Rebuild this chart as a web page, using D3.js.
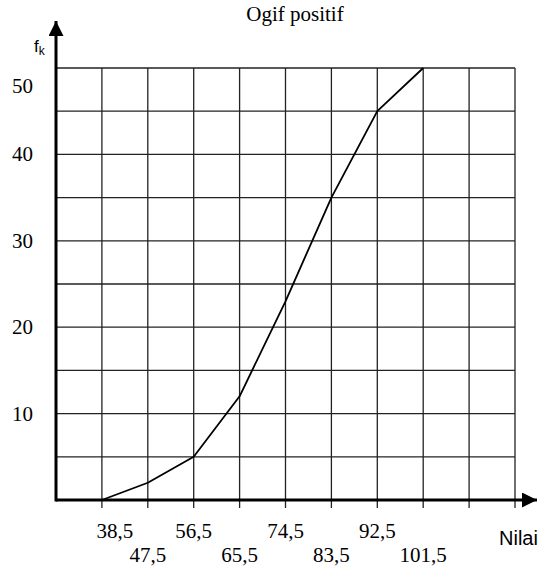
<!DOCTYPE html>
<html lang="id">
	<head>
		<meta charset="utf-8">
		<style type="text/css">
			html, body {
				margin: 0;
				padding: 0;
				background: #fff;
			}
			.serif {
				font-family: "Liberation Serif", "DejaVu Serif", serif;
			}
			.sans {
				font-family: "Liberation Sans", Arial, sans-serif;
			}
		</style>
	</head>
	<body>
		<svg width="550" height="569"></svg>
	<script src="https://d3js.org/d3.v7.min.js"></script>
	<script>
		const title = "Ogif positif"
		const classBounds = [38.5, 47.5, 56.5, 65.5, 74.5, 83.5, 92.5, 101.5]
		const cumFreq = [0, 2, 5, 12, 23, 35, 45, 50]
		const xGrid = [38.5, 47.5, 56.5, 65.5, 74.5, 83.5, 92.5, 101.5, 110.5, 119.5]
		const yGrid = [5, 10, 15, 20, 25, 30, 35, 40, 45, 50]
		const yTickLabels = [10, 20, 30, 40, 50]

		const idFormat = d3.formatLocale({ decimal: ",", thousands: ".", grouping: [3], currency: ["", ""] }).format(".1f")

		const x = d3.scaleLinear().domain([29.5, 119.5]).range([56, 515])
		const y = d3.scaleLinear().domain([0, 50]).range([500, 68])

		const svg = d3.select("svg")

		svg.append("defs").append("marker")
			.attr("id", "arrow")
			.attr("viewBox", "0 0 10 10")
			.attr("refX", 10).attr("refY", 5)
			.attr("markerWidth", 15).attr("markerHeight", 15)
			.attr("markerUnits", "userSpaceOnUse")
			.attr("orient", "auto")
		  .append("path")
			.attr("d", "M0,0 L10,5 L0,10 Z")
			.attr("fill", "#000")

		// grid
		svg.append("g").selectAll("line")
			.data(yGrid)
			.join("line")
			.attr("x1", x.range()[0]).attr("x2", x(xGrid[xGrid.length - 1]))
			.attr("y1", d => y(d)).attr("y2", d => y(d))
			.attr("stroke", "#222").attr("stroke-width", 1.3)

		svg.append("g").selectAll("line")
			.data(xGrid)
			.join("line")
			.attr("x1", d => x(d)).attr("x2", d => x(d))
			.attr("y1", y(50)).attr("y2", y(0) + 8)
			.attr("stroke", "#222").attr("stroke-width", 1.3)

		// axes
		svg.append("line")
			.attr("x1", x.range()[0]).attr("x2", 537)
			.attr("y1", y(0)).attr("y2", y(0))
			.attr("stroke", "#000").attr("stroke-width", 3)
			.attr("marker-end", "url(#arrow)")

		svg.append("line")
			.attr("x1", x.range()[0]).attr("x2", x.range()[0])
			.attr("y1", y(0) + 1.5).attr("y2", 21)
			.attr("stroke", "#000").attr("stroke-width", 3)
			.attr("marker-end", "url(#arrow)")

		// ogive
		const line = d3.line()
			.x((d, i) => x(classBounds[i]))
			.y(d => y(d))

		svg.append("path")
			.attr("d", line(cumFreq))
			.attr("fill", "none")
			.attr("stroke", "#000")
			.attr("stroke-width", 1.8)
			.attr("stroke-linejoin", "round")

		// tick labels
		svg.append("g").attr("class", "serif").selectAll("text")
			.data(yTickLabels)
			.join("text")
			.attr("x", 33)
			.attr("y", d => Math.max(y(d), y(50) + 18) + 7)
			.attr("text-anchor", "end")
			.attr("font-size", 21)
			.text(d => d)

		svg.append("g").attr("class", "serif").selectAll("text")
			.data(classBounds)
			.join("text")
			.attr("x", (d, i) => x(d) + (i === 0 ? 13 : 0))
			.attr("y", (d, i) => i % 2 === 0 ? 538 : 562)
			.attr("text-anchor", "middle")
			.attr("font-size", 21)
			.text(d => idFormat(d))

		svg.append("text")
			.attr("class", "serif")
			.attr("x", 295).attr("y", 21)
			.attr("text-anchor", "middle")
			.attr("font-size", 21)
			.text(title)

		const fk = svg.append("text")
			.attr("class", "sans")
			.attr("x", 34).attr("y", 52)
			.attr("font-size", 17)
		fk.append("tspan").text("f")
		fk.append("tspan").attr("font-size", 12).attr("dy", 3).text("k")

		svg.append("text")
			.attr("class", "sans")
			.attr("x", 499).attr("y", 545)
			.attr("font-size", 20)
			.text("Nilai")
	</script>
	</body>
</html>
